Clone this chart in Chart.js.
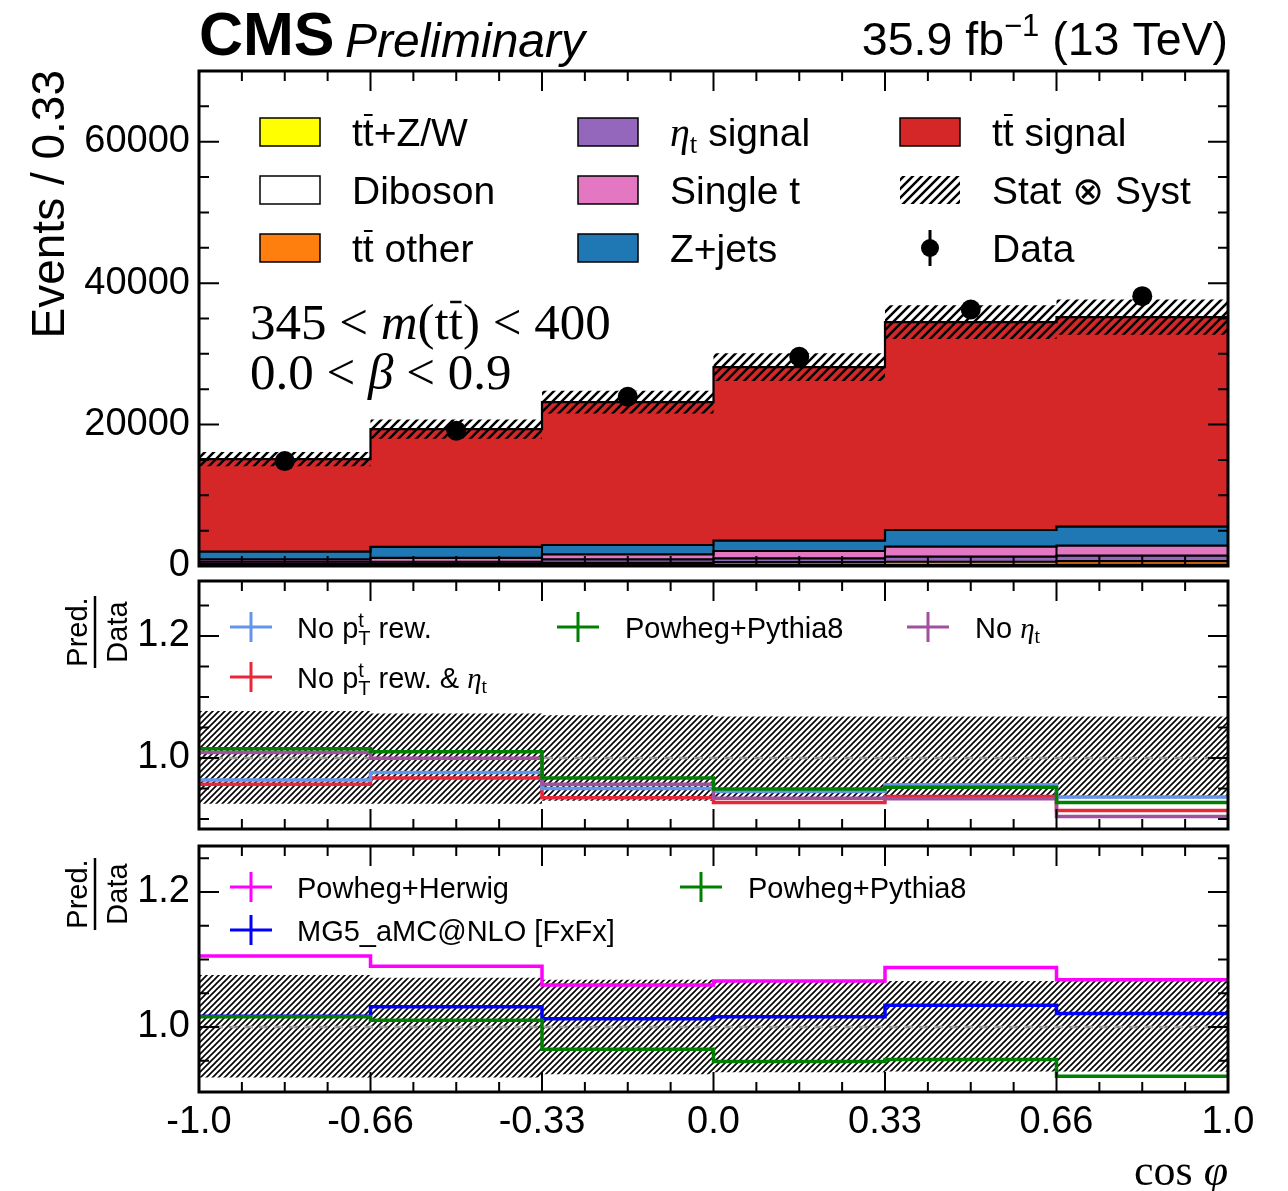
<!DOCTYPE html>
<html>
<head>
<meta charset="utf-8">
<script src="https://cdn.jsdelivr.net/npm/chart.js@4.4.1/dist/chart.umd.min.js"></script>
<style>
  html, body { margin: 0; padding: 0; background: #fff; }
  #wrap { position: relative; width: 1288px; height: 1191px; }
  #wrap canvas { position: absolute; left: 0; top: 0; }
</style>
</head>
<body>
<div id="wrap">
  <canvas id="mainChart" width="1288" height="1191"></canvas>
  <canvas id="ratio1Chart" width="1288" height="1191"></canvas>
  <canvas id="ratio2Chart" width="1288" height="1191"></canvas>
</div>
<script>
// cos(phi) binning
const binEdges = [-1, -2 / 3, -1 / 3, 0, 1 / 3, 2 / 3, 1];
const xTickLabels = ['-1.0', '-0.66', '-0.33', '0.0', '0.33', '0.66', '1.0'];

// stacked predictions (events / bin), bottom to top
const ttZW = [40, 50, 60, 80, 100, 110];
const diboson = [20, 25, 30, 35, 40, 45];
const ttOther = [240, 275, 360, 435, 460, 545];
const etaSignal = [300, 250, 500, 540, 720, 760];
const singleT = [350, 550, 700, 1030, 1410, 1410];
const zJets = [1070, 1550, 1320, 1460, 2360, 2690];
const ttSignal = [13100, 16660, 20210, 24540, 29400, 29630];
const predUnc = [1000, 1350, 1600, 1950, 2400, 2500];
const dataEvents = [14840, 19120, 23930, 29590, 36280, 38160];

// Stat (x) Syst band in the ratio panels
const bandUp = [1.077, 1.073, 1.070, 1.068, 1.068, 1.068];
const bandDown = [0.925, 0.925, 0.930, 0.933, 0.934, 0.934];

// ratio panel 1
const noPtRew = [0.964, 0.976, 0.950, 0.945, 0.956, 0.936];
const noPtRewEta = [0.957, 0.967, 0.935, 0.927, 0.937, 0.914];
const noEta = [1.009, 0.9995, 0.957, 0.934, 0.933, 0.904];
// both ratio panels
const powhegPythia = [1.015, 1.010, 0.967, 0.949, 0.952, 0.927];
// ratio panel 2
const powhegHerwig = [1.105, 1.090, 1.062, 1.068, 1.088, 1.070];
const mg5Fxfx = [1.016, 1.030, 1.012, 1.015, 1.032, 1.020];

// y tick labels
const mainYTicks = [0, 20000, 40000, 60000];
const ratioYTicks = [1.0, 1.2];

const SANS = '"Liberation Sans"';
const SERIF = '"Liberation Serif"';

// turn per-bin values into a step outline
function steps(vals) {
  const pts = [];
  vals.forEach((v, i) => {
    pts.push({ x: binEdges[i], y: v }, { x: binEdges[i + 1], y: v });
  });
  return pts;
}

function hatch(ctx, size, width) {
  const c = document.createElement('canvas');
  c.width = size;
  c.height = size;
  const g = c.getContext('2d');
  g.strokeStyle = '#000';
  g.lineWidth = width;
  g.beginPath();
  g.moveTo(-1, size + 1); g.lineTo(size + 1, -1);
  g.moveTo(-size / 2, size / 2); g.lineTo(size / 2, -size / 2);
  g.moveTo(size / 2, size * 1.5); g.lineTo(size * 1.5, size / 2);
  g.stroke();
  return ctx.createPattern(c, 'repeat');
}

// rich text: parts of {t, font, dy, bar} or {sup, sub, font}
function partWidth(ctx, p) {
  ctx.font = p.font;
  if (p.sup !== undefined) return Math.max(ctx.measureText(p.sup).width, ctx.measureText(p.sub).width);
  return ctx.measureText(p.t).width;
}
function richText(ctx, x, y, parts, align) {
  const widths = parts.map(p => partWidth(ctx, p));
  let cx = align === 'right' ? x - widths.reduce((a, b) => a + b, 0) : x;
  ctx.textAlign = 'left';
  ctx.textBaseline = 'alphabetic';
  parts.forEach((p, i) => {
    ctx.font = p.font;
    if (p.sup !== undefined) {
      ctx.fillText(p.sup, cx, y + p.supDy);
      ctx.fillText(p.sub, cx, y + p.subDy);
    } else {
      ctx.fillText(p.t, cx, y + (p.dy || 0));
      if (p.bar) {
        ctx.save();
        ctx.lineWidth = p.barW || 2;
        ctx.beginPath();
        ctx.moveTo(cx + widths[i] * 0.1, y - p.bar);
        ctx.lineTo(cx + widths[i] * 0.9, y - p.bar);
        ctx.stroke();
        ctx.restore();
      }
    }
    cx += widths[i];
  });
}

function framePlugin(cfg) {
  return {
    id: 'frame',
    afterDatasetsDraw(chart) {
      const { ctx, chartArea: a } = chart;
      const x = chart.scales.x, y = chart.scales.y;
      ctx.save();
      ctx.strokeStyle = '#000';
      ctx.lineWidth = 2;
      ctx.beginPath();
      for (let i = 0; i <= 24; i++) {
        const px = x.getPixelForValue(-1 + i / 12);
        const len = i % 4 === 0 ? 20 : 10;
        ctx.moveTo(px, a.bottom); ctx.lineTo(px, a.bottom - len);
        ctx.moveTo(px, a.top); ctx.lineTo(px, a.top + len);
      }
      const n0 = Math.ceil(y.min / cfg.yMinorStep - 1e-9);
      const n1 = Math.floor(y.max / cfg.yMinorStep + 1e-9);
      for (let n = n0; n <= n1; n++) {
        const v = n * cfg.yMinorStep;
        const major = cfg.yMajor.some(m => Math.abs(m - v) < 1e-6);
        const py = y.getPixelForValue(v);
        const len = major ? 20 : 10;
        ctx.moveTo(a.left, py); ctx.lineTo(a.left + len, py);
        ctx.moveTo(a.right, py); ctx.lineTo(a.right - len, py);
      }
      ctx.stroke();
      ctx.lineWidth = 3;
      ctx.strokeRect(a.left, a.top, a.right - a.left, a.bottom - a.top);
      ctx.restore();
    },
    afterDraw(chart) {
      if (!cfg.texts) return;
      chart.ctx.save();
      chart.ctx.fillStyle = '#000';
      chart.ctx.strokeStyle = '#000';
      cfg.texts(chart.ctx);
      chart.ctx.restore();
    }
  };
}

function yScale(min, max, ticks, fmt) {
  return {
    min: min,
    max: max,
    afterFit: s => { s.width = 199; },
    afterBuildTicks: s => { s.ticks = ticks.map(v => ({ value: v })); },
    grid: { display: false, drawTicks: false },
    border: { display: false },
    ticks: { color: '#000', font: { family: 'Liberation Sans', size: 38 }, padding: 9, callback: fmt }
  };
}

function baseOptions(padTop, padBottom) {
  return {
    responsive: false,
    animation: false,
    events: [],
    layout: { padding: { top: padTop, right: 60, bottom: padBottom, left: 0 } },
    elements: { point: { radius: 0 }, line: { tension: 0 } },
    plugins: { legend: { display: false }, tooltip: { enabled: false } }
  };
}

function ratioFraction(ctx, yc) {
  ctx.save();
  ctx.translate(95, yc);
  ctx.rotate(-Math.PI / 2);
  ctx.font = '29px ' + SANS;
  ctx.textAlign = 'center';
  ctx.textBaseline = 'alphabetic';
  ctx.fillText('Pred.', 0, -8);
  ctx.fillText('Data', 0, 32);
  ctx.lineWidth = 2.5;
  ctx.beginPath();
  ctx.moveTo(-36, 0); ctx.lineTo(36, 0);
  ctx.stroke();
  ctx.restore();
}

function cross(ctx, xc, yc, color) {
  ctx.save();
  ctx.strokeStyle = color;
  ctx.lineWidth = 3;
  ctx.beginPath();
  ctx.moveTo(xc - 21, yc); ctx.lineTo(xc + 21, yc);
  ctx.moveTo(xc, yc - 15); ctx.lineTo(xc, yc + 15);
  ctx.stroke();
  ctx.restore();
}

// ---------------- main panel ----------------
const mainCanvas = document.getElementById('mainChart');
const mainCtx = mainCanvas.getContext('2d');
const mainHatch = hatch(mainCtx, 9, 2.5);

const layers = [ttZW, diboson, ttOther, etaSignal, singleT, zJets, ttSignal];
const layerColors = ['#ffff00', '#ffffff', '#ff7f0e', '#9467bd', '#e377c2', '#1f77b4', '#d62728'];
const cumLayers = [];
layers.forEach((vals, k) => {
  cumLayers.push(vals.map((v, i) => v + (k > 0 ? cumLayers[k - 1][i] : 0)));
});
const totalPred = cumLayers[cumLayers.length - 1];

const mainDatasets = [
  {
    data: dataEvents.map((v, i) => ({ x: (binEdges[i] + binEdges[i + 1]) / 2, y: v })),
    showLine: false, pointRadius: 10, pointBackgroundColor: '#000', pointBorderWidth: 0, order: 0
  },
  { data: steps(totalPred.map((v, i) => v - predUnc[i])), borderWidth: 0, fill: false, order: 1 },
  { data: steps(totalPred.map((v, i) => v + predUnc[i])), borderWidth: 0, fill: '-1', backgroundColor: mainHatch, order: 1 }
];
cumLayers.forEach((vals, k) => {
  mainDatasets.push({
    data: steps(vals),
    fill: k === 0 ? 'origin' : '-1',
    backgroundColor: layerColors[k],
    borderColor: '#000',
    borderWidth: 2.2,
    order: 2
  });
});

function drawMainTexts(ctx) {
  ctx.textAlign = 'left';
  ctx.textBaseline = 'alphabetic';
  ctx.font = 'bold 61px ' + SANS;
  ctx.fillText('CMS', 199, 55);
  ctx.font = 'italic 48px ' + SANS;
  ctx.fillText('Preliminary', 345, 57);
  const F = '46.5px ' + SANS;
  richText(ctx, 1228, 55, [
    { t: '35.9 fb', font: F },
    { t: '\u22121', font: '31px ' + SANS, dy: -19 },
    { t: ' (13 TeV)', font: F }
  ], 'right');

  // y title
  ctx.save();
  ctx.translate(64, 70);
  ctx.rotate(-Math.PI / 2);
  ctx.font = '46px ' + SANS;
  ctx.textAlign = 'right';
  ctx.fillText('Events / 0.33', 0, 0);
  ctx.restore();

  // selection
  const S = '51px ' + SERIF, SI = 'italic 51px ' + SERIF;
  richText(ctx, 250, 339, [
    { t: '345 < ', font: S }, { t: 'm', font: SI }, { t: '(t', font: S },
    { t: 't', font: S, bar: 37, barW: 2.5 }, { t: ') < 400', font: S }
  ]);
  richText(ctx, 250, 389, [
    { t: '0.0 < ', font: S }, { t: '\u03b2', font: SI }, { t: ' < 0.9', font: S }
  ]);

  // legend
  const L = '39px ' + SANS;
  const LI = 'italic 40px ' + SERIF;
  const tt = (rest) => [{ t: 't', font: L }, { t: 't', font: L, bar: 31 }, { t: rest, font: L }];
  const entries = [
    { col: 0, row: 0, fill: layerColors[0], label: tt('+Z/W') },
    { col: 0, row: 1, fill: layerColors[1], label: [{ t: 'Diboson', font: L }] },
    { col: 0, row: 2, fill: layerColors[2], label: tt(' other') },
    { col: 1, row: 0, fill: layerColors[3], label: [{ t: '\u03b7', font: LI }, { t: 't', font: '27px ' + SERIF, dy: 7 }, { t: ' signal', font: L }] },
    { col: 1, row: 1, fill: layerColors[4], label: [{ t: 'Single t', font: L }] },
    { col: 1, row: 2, fill: layerColors[5], label: [{ t: 'Z+jets', font: L }] },
    { col: 2, row: 0, fill: layerColors[6], label: tt(' signal') },
    { col: 2, row: 1, fill: 'hatch', label: [{ t: 'Stat ', font: L }, { t: '\u2297', font: '38px "DejaVu Sans"' }, { t: ' Syst', font: L }] },
    { col: 2, row: 2, fill: 'data', label: [{ t: 'Data', font: L }] }
  ];
  const boxX = [260, 578, 900], textX = [352, 670, 992], rowY = [132, 190, 248];
  entries.forEach(e => {
    const bx = boxX[e.col], yc = rowY[e.row];
    if (e.fill === 'hatch') {
      ctx.fillStyle = mainHatch;
      ctx.fillRect(bx, yc - 14, 60, 28);
      ctx.fillStyle = '#000';
    } else if (e.fill === 'data') {
      ctx.lineWidth = 3;
      ctx.beginPath();
      ctx.moveTo(bx + 30, yc - 18); ctx.lineTo(bx + 30, yc + 18);
      ctx.stroke();
      ctx.beginPath();
      ctx.arc(bx + 30, yc, 9, 0, Math.PI * 2);
      ctx.fill();
    } else {
      ctx.fillStyle = e.fill;
      ctx.fillRect(bx, yc - 14, 60, 28);
      ctx.lineWidth = 1.5;
      ctx.strokeRect(bx, yc - 14, 60, 28);
      ctx.fillStyle = '#000';
    }
    richText(ctx, textX[e.col], yc + 14, e.label);
  });
}

new Chart(mainCtx, {
  type: 'line',
  data: { datasets: mainDatasets },
  options: Object.assign(baseOptions(71, 1191 - 566), {
    scales: {
      x: { type: 'linear', min: -1, max: 1, display: false },
      y: yScale(0, 70000, mainYTicks, v => String(v))
    }
  }),
  plugins: [framePlugin({ yMinorStep: 5000, yMajor: mainYTicks, texts: drawMainTexts })]
});

// ---------------- ratio panels ----------------
function ratioDatasets(ctx, lines) {
  const pat = hatch(ctx, 6, 1.6);
  const ds = lines.map(l => ({
    data: steps(l.vals), borderColor: l.color, borderWidth: 3.5, fill: false, order: 0
  }));
  ds.push({
    data: [{ x: -1, y: 1 }, { x: 1, y: 1 }],
    borderColor: '#9a9a9a', borderWidth: 2.5, borderDash: [9, 6], fill: false, order: 1
  });
  ds.push({ data: steps(bandDown), borderWidth: 0, fill: false, order: 2 });
  ds.push({ data: steps(bandUp), borderWidth: 0, fill: '-1', backgroundColor: pat, order: 2 });
  return ds;
}

const r1Ctx = document.getElementById('ratio1Chart').getContext('2d');
const ratio1Lines = [
  { vals: powhegPythia, color: '#008000' },
  { vals: noEta, color: '#a0509e' },
  { vals: noPtRew, color: '#6495ed' },
  { vals: noPtRewEta, color: '#e8283a' }
];

function drawRatio1Texts(ctx) {
  ratioFraction(ctx, 632);
  const R = '29px ' + SANS;
  const sub = { sup: 't', sub: 'T', font: '20px ' + SANS, supDy: -11, subDy: 7 };
  cross(ctx, 251, 627, '#6495ed');
  richText(ctx, 297, 638, [{ t: 'No p', font: R }, sub, { t: ' rew.', font: R }]);
  cross(ctx, 578, 627, '#008000');
  richText(ctx, 625, 638, [{ t: 'Powheg+Pythia8', font: R }]);
  cross(ctx, 928, 627, '#a0509e');
  richText(ctx, 975, 638, [{ t: 'No ', font: R }, { t: '\u03b7', font: 'italic 29px ' + SERIF }, { t: 't', font: '20px ' + SERIF, dy: 5 }]);
  cross(ctx, 251, 677, '#e8283a');
  richText(ctx, 297, 688, [
    { t: 'No p', font: R }, sub, { t: ' rew. & ', font: R },
    { t: '\u03b7', font: 'italic 29px ' + SERIF }, { t: 't', font: '20px ' + SERIF, dy: 5 }
  ]);
}

new Chart(r1Ctx, {
  type: 'line',
  data: { datasets: ratioDatasets(r1Ctx, ratio1Lines) },
  options: Object.assign(baseOptions(581, 1191 - 829), {
    scales: {
      x: { type: 'linear', min: -1, max: 1, display: false },
      y: yScale(0.8836, 1.29, ratioYTicks, v => v.toFixed(1))
    }
  }),
  plugins: [framePlugin({ yMinorStep: 0.05, yMajor: ratioYTicks, texts: drawRatio1Texts })]
});

const r2Ctx = document.getElementById('ratio2Chart').getContext('2d');
const ratio2Lines = [
  { vals: powhegPythia, color: '#008000' },
  { vals: mg5Fxfx, color: '#0000ff' },
  { vals: powhegHerwig, color: '#ff00ff' }
];

function drawRatio2Texts(ctx) {
  ratioFraction(ctx, 894);
  const R = '29px ' + SANS;
  cross(ctx, 251, 887, '#ff00ff');
  richText(ctx, 297, 898, [{ t: 'Powheg+Herwig', font: R }]);
  cross(ctx, 701, 887, '#008000');
  richText(ctx, 748, 898, [{ t: 'Powheg+Pythia8', font: R }]);
  cross(ctx, 251, 930, '#0000ff');
  richText(ctx, 297, 941, [{ t: 'MG5_aMC@NLO [FxFx]', font: R }]);
  richText(ctx, 1228, 1185, [
    { t: 'cos ', font: '44px ' + SERIF }, { t: '\u03c6', font: 'italic 44px ' + SERIF }
  ], 'right');
}

new Chart(r2Ctx, {
  type: 'line',
  data: { datasets: ratioDatasets(r2Ctx, ratio2Lines) },
  options: Object.assign(baseOptions(846, 39), {
    scales: {
      x: {
        type: 'linear', min: -1, max: 1, position: 'bottom',
        afterFit: s => { s.height = 60; },
        afterBuildTicks: s => { s.ticks = binEdges.map(v => ({ value: v })); },
        grid: { display: false, drawTicks: false },
        border: { display: false },
        ticks: {
          color: '#000', font: { family: 'Liberation Sans', size: 38 }, padding: 8,
          autoSkip: false, maxRotation: 0, minRotation: 0,
          callback: (v, i) => xTickLabels[i]
        }
      },
      y: yScale(0.9037, 1.268, ratioYTicks, v => v.toFixed(1))
    }
  }),
  plugins: [framePlugin({ yMinorStep: 0.05, yMajor: ratioYTicks, texts: drawRatio2Texts })]
});
</script>
</body>
</html>
